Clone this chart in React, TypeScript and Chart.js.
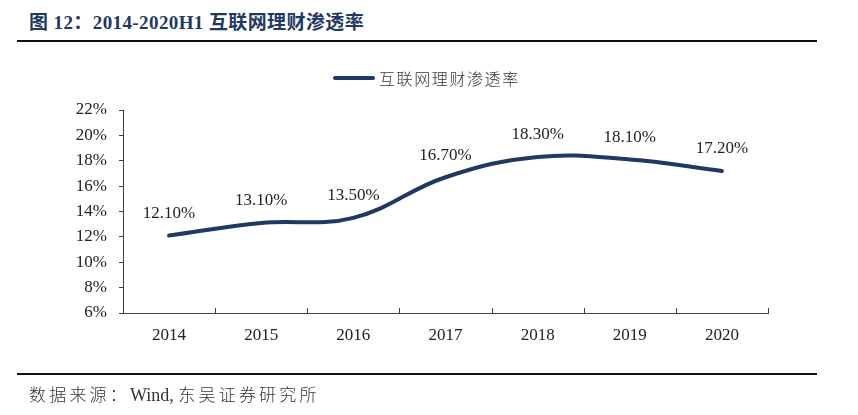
import React, { useEffect, useRef } from "react";
import { Chart, registerables } from "chart.js";

Chart.register(...registerables);

const categories = ["2014", "2015", "2016", "2017", "2018", "2019", "2020"];
const penetration = [12.1, 13.1, 13.5, 16.7, 18.3, 18.1, 17.2];
const seriesName = "互联网理财渗透率";
const yMin = 6;
const yMax = 22;
const yStep = 2;

const NAVY = "#1f3864";
const AXIS = "#404040";
const TEXT = "#222222";
const SERIF = "'Liberation Serif', 'Times New Roman', 'Noto Sans CJK SC', serif";
const CJK = "'Noto Sans CJK SC', sans-serif";

const decorPlugin = {
  id: "decor",
  afterDatasetsDraw(chart: any) {
    const ctx = chart.ctx;
    const xs = chart.scales.x;
    const ys = chart.scales.y;
    const half = (xs.getPixelForValue(1) - xs.getPixelForValue(0)) / 2;
    const bottom = chart.chartArea.bottom;
    ctx.save();
    ctx.strokeStyle = AXIS;
    ctx.lineWidth = 1;
    for (let i = 0; i < categories.length; i++) {
      const x = Math.round(xs.getPixelForValue(i) + half) + 0.5;
      ctx.beginPath();
      ctx.moveTo(x, bottom);
      ctx.lineTo(x, bottom - 5);
      ctx.stroke();
    }
    ctx.fillStyle = TEXT;
    ctx.font = "17px " + SERIF;
    ctx.textAlign = "center";
    ctx.textBaseline = "middle";
    const meta = chart.getDatasetMeta(0);
    meta.data.forEach((pt: any, i: number) => {
      ctx.fillText(penetration[i].toFixed(2) + "%", pt.x, ys.getPixelForValue(penetration[i]) - 22);
    });
    ctx.restore();
  },
};

export default function App() {
  const ref = useRef<HTMLCanvasElement | null>(null);

  useEffect(() => {
    if (!ref.current) return;
    const chart = new Chart(ref.current, {
      type: "line",
      data: {
        labels: categories,
        datasets: [
          {
            label: seriesName,
            data: penetration,
            borderColor: NAVY,
            backgroundColor: NAVY,
            borderWidth: 4,
            pointRadius: 0,
            tension: 0.4,
            borderCapStyle: "round",
          },
        ],
      },
      options: {
        animation: false,
        responsive: false,
        events: [],
        layout: { padding: { left: 0, right: 90, top: 110, bottom: 0 } },
        plugins: {
          legend: { display: false },
          title: { display: false },
          tooltip: { enabled: false },
        },
        scales: {
          x: {
            type: "category",
            offset: true,
            grid: { display: false, drawTicks: false },
            border: { display: true, color: AXIS, width: 1 },
            ticks: {
              color: TEXT,
              font: { family: SERIF, size: 17 },
              padding: 12,
              maxRotation: 0,
            },
            afterFit: (scale: any) => {
              scale.height = 102;
            },
          },
          y: {
            min: yMin,
            max: yMax,
            grid: {
              display: true,
              drawOnChartArea: false,
              drawTicks: true,
              tickLength: 4,
              color: AXIS,
            },
            border: { display: true, color: AXIS, width: 1 },
            ticks: {
              stepSize: yStep,
              color: TEXT,
              font: { family: SERIF, size: 17 },
              padding: 12,
              callback: (v: any) => v + "%",
            },
            afterFit: (scale: any) => {
              scale.width = 123;
            },
          },
        },
      },
      plugins: [decorPlugin],
    } as any);
    return () => chart.destroy();
  }, []);

  const cjkFooter = { fontFamily: CJK, fontWeight: 300, fontSize: 17, letterSpacing: 3.2 };

  return (
    <div
      style={{
        position: "absolute",
        left: 0,
        top: 0,
        width: 858,
        height: 415,
        background: "#fff",
        overflow: "hidden",
      }}
    >
      <div
        style={{
          position: "absolute",
          left: 29,
          top: 0,
          height: 46,
          lineHeight: "46px",
          fontFamily: SERIF,
          fontWeight: "bold",
          fontSize: 19,
          letterSpacing: 0.4,
          color: NAVY,
          whiteSpace: "nowrap",
        }}
      >
        图 12：2014-2020H1 互联网理财渗透率
      </div>
      <div style={{ position: "absolute", left: 17, top: 40, width: 800, height: 2, background: "#111" }} />
      <canvas
        ref={ref}
        width={858}
        height={415}
        style={{ position: "absolute", left: 0, top: 0, width: 858, height: 415 }}
      />
      <div
        style={{
          position: "absolute",
          left: 333,
          top: 68,
          height: 20,
          display: "flex",
          alignItems: "center",
          whiteSpace: "nowrap",
        }}
      >
        <div style={{ width: 42, height: 4, background: NAVY, borderRadius: 2 }} />
        <span
          style={{
            marginLeft: 4,
            fontFamily: CJK,
            fontWeight: 300,
            fontSize: 16,
            letterSpacing: 1.6,
            color: "#333",
            lineHeight: "20px",
          }}
        >
          {seriesName}
        </span>
      </div>
      <div style={{ position: "absolute", left: 17, top: 373, width: 800, height: 2, background: "#111" }} />
      <div
        style={{
          position: "absolute",
          left: 29,
          top: 379,
          height: 30,
          lineHeight: "30px",
          fontSize: 17,
          color: "#333",
          whiteSpace: "nowrap",
        }}
      >
        <span style={cjkFooter}>数据来源：</span>
        <span style={{ fontFamily: SERIF, fontSize: 18 }}>Wind, </span>
        <span style={cjkFooter}>东吴证券研究所</span>
      </div>
    </div>
  );
}
